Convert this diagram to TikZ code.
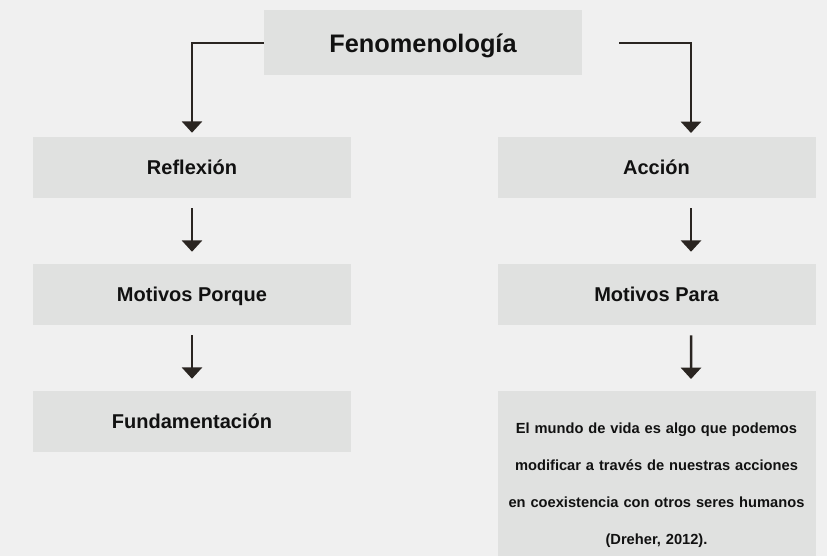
\documentclass[tikz,border=0pt]{standalone}
\usepackage{fontspec}
\setmainfont{Liberation Sans}
\newfontfamily\qfont[WordSpace=0.6]{Liberation Sans}
\usetikzlibrary{arrows.meta,calc}
\definecolor{bgc}{HTML}{F0F0F0}
\definecolor{boxc}{HTML}{E0E1E0}
\definecolor{arrc}{HTML}{2A2521}
\definecolor{txtc}{HTML}{111111}
\begin{document}
\begin{tikzpicture}[x=0.75pt,y=-0.75pt,
  box/.style={fill=boxc, draw=none, inner sep=0pt, minimum width=238.5pt,
    minimum height=45.75pt, text=txtc, font=\fontsize{15}{18}\selectfont\bfseries,
    text height=10.7pt, text depth=0pt},
  topbox/.style={box, minimum height=48.75pt, font=\fontsize{19}{23}\selectfont\bfseries,
    text height=13.6pt},
  quotebox/.style={fill=boxc, draw=none, inner xsep=0pt, inner ysep=23.5pt,
    text width=238.5pt, align=center, text=txtc,
    font=\qfont\fontsize{11}{27.75}\selectfont\bfseries},
  arr/.style={draw=arrc, line width=1.9pt, -{Triangle[width=15pt,length=8.5pt]}},
  varr/.style={arr, shorten <=7.5pt, shorten >=9pt}]
\clip (0,0) rectangle (827,556);
\fill[bgc] (0,0) rectangle (827,556);

\node[topbox] (top) at (423,43) {Fenomenología};

\node[box] (refl) at (192,167.5) {Reflexión};
\node[box] (mpq) at (192,294.5) {Motivos Porque};
\node[box] (fund) at (192,421.5) {Fundamentación};

\node[box] (acc) at (656.5,167.5) {Acción};
\node[box] (mpa) at (656.5,294.5) {Motivos Para};
\node[quotebox, anchor=north] (quote) at (656.5,391) {El mundo de vida es algo que podemos\\modificar a través de nuestras acciones\\en coexistencia con otros seres humanos\\(Dreher, 2012).};

% top connectors
\coordinate (rstart) at (619,43);
\coordinate (racc) at (691,137);
\draw[arr, shorten >=3pt] (top.west) -| (refl.north);
\draw[arr, shorten >=3pt] (rstart) -| (racc);

% left column
\draw[varr] (refl) -- (mpq);
\draw[varr] (mpq) -- (fund);

% right column (offset to the right)
\draw[varr] ([xshift=25.9pt]acc.south) -- ([xshift=25.9pt]mpa.north);
\draw[varr] ([xshift=25.9pt]mpa.south) -- (quote.north -| racc);
\end{tikzpicture}
\end{document}
